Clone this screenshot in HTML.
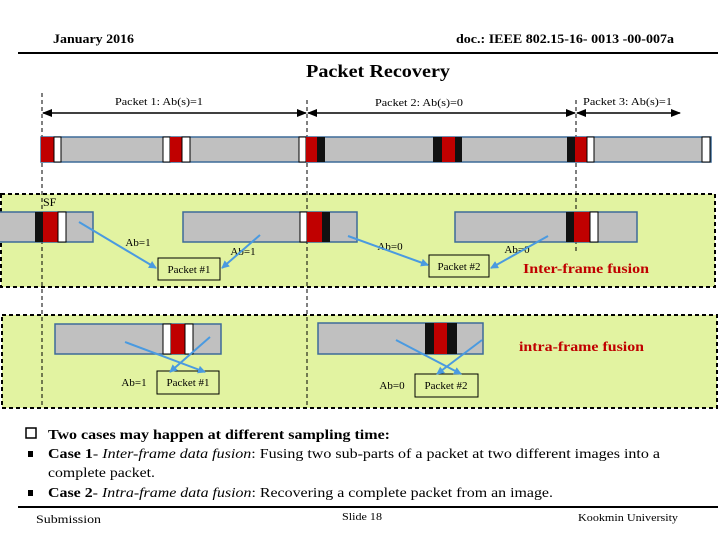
<!DOCTYPE html>
<html><head><meta charset="utf-8"><style>
html,body{margin:0;padding:0;background:#fff;width:720px;height:540px;overflow:hidden}
svg{display:block}
text{font-family:"Liberation Serif",serif;fill:#000}
</style></head><body>
<svg width="720" height="540" viewBox="0 0 720 540" xmlns="http://www.w3.org/2000/svg">
<defs>
<marker id="ab" markerWidth="8" markerHeight="8" refX="7" refY="4" orient="auto" markerUnits="userSpaceOnUse"><path d="M0,0 L8,4 L0,8 z" fill="#4a9ae0"/></marker>
<marker id="kb" markerWidth="10" markerHeight="8" refX="9" refY="4" orient="auto" markerUnits="userSpaceOnUse"><path d="M0,0 L10,4 L0,8 z" fill="#000"/></marker>
<marker id="ks" markerWidth="10" markerHeight="8" refX="1" refY="4" orient="auto" markerUnits="userSpaceOnUse"><path d="M10,0 L0,4 L10,8 z" fill="#000"/></marker>
</defs>
<text x="53" y="43" font-size="13" font-weight="bold" textLength="81" lengthAdjust="spacingAndGlyphs">January 2016</text>
<text x="456" y="43" font-size="13" font-weight="bold" textLength="218" lengthAdjust="spacingAndGlyphs">doc.: IEEE 802.15-16- 0013 -00-007a</text>
<line x1="18" y1="53" x2="718" y2="53" stroke="#000" stroke-width="2"/>
<text x="306" y="77" font-size="18" font-weight="bold" textLength="144" lengthAdjust="spacingAndGlyphs">Packet Recovery</text>

<rect x="1" y="194" width="714" height="93" fill="#e2f3a1" stroke="#000" stroke-width="2" stroke-dasharray="4,3"/>
<rect x="2" y="315" width="715" height="93" fill="#e2f3a1" stroke="#000" stroke-width="2" stroke-dasharray="4,3"/>

<g stroke="#000" stroke-width="1" stroke-dasharray="4,3">
<line x1="42" y1="93" x2="42" y2="408"/>
<line x1="307" y1="100" x2="307" y2="408"/>
<line x1="576" y1="100" x2="576" y2="252"/>
</g>

<text x="115" y="105" font-size="11" textLength="88" lengthAdjust="spacingAndGlyphs">Packet 1: Ab(s)=1</text>
<text x="375" y="106" font-size="11" textLength="88" lengthAdjust="spacingAndGlyphs">Packet 2: Ab(s)=0</text>
<text x="583" y="105" font-size="11" textLength="89" lengthAdjust="spacingAndGlyphs">Packet 3: Ab(s)=1</text>
<g stroke="#000" stroke-width="1.5">
<line x1="43" y1="113" x2="306" y2="113" marker-end="url(#kb)" marker-start="url(#ks)"/>
<line x1="308" y1="113" x2="575" y2="113" marker-end="url(#kb)" marker-start="url(#ks)"/>
<line x1="577" y1="113" x2="680" y2="113" marker-end="url(#kb)" marker-start="url(#ks)"/>
</g>

<rect x="41" y="137" width="670" height="25" fill="#c0c0c0" stroke="#3d6b99" stroke-width="1.5"/>
<g stroke="#000" stroke-width="1">
<rect x="41" y="137" width="13" height="25" fill="#c00000" stroke="none"/>
<rect x="54" y="137" width="7" height="25" fill="#fff"/>
<rect x="163" y="137" width="7" height="25" fill="#fff"/>
<rect x="170" y="137" width="12" height="25" fill="#c00000" stroke="none"/>
<rect x="182" y="137" width="8" height="25" fill="#fff"/>
<rect x="299" y="137" width="7" height="25" fill="#fff"/>
<rect x="306" y="137" width="11" height="25" fill="#c00000" stroke="none"/>
<rect x="317" y="137" width="8" height="25" fill="#111" stroke="none"/>
<rect x="433" y="137" width="9" height="25" fill="#111" stroke="none"/>
<rect x="442" y="137" width="13" height="25" fill="#c00000" stroke="none"/>
<rect x="455" y="137" width="7" height="25" fill="#111" stroke="none"/>
<rect x="567" y="137" width="8" height="25" fill="#111" stroke="none"/>
<rect x="575" y="137" width="12" height="25" fill="#c00000" stroke="none"/>
<rect x="587" y="137" width="7" height="25" fill="#fff"/>
<rect x="702" y="137" width="8" height="25" fill="#fff"/>
</g>

<text x="43" y="206" font-size="12">SF</text>
<rect x="-2" y="212" width="95" height="30" fill="#c0c0c0" stroke="#3d6b99" stroke-width="1.5"/>
<rect x="35" y="212" width="8" height="30" fill="#111"/>
<rect x="43" y="212" width="15" height="30" fill="#c00000"/>
<rect x="58" y="212" width="8" height="30" fill="#fff" stroke="#000"/>

<rect x="183" y="212" width="174" height="30" fill="#c0c0c0" stroke="#3d6b99" stroke-width="1.5"/>
<rect x="300" y="212" width="7" height="30" fill="#fff" stroke="#000"/>
<rect x="307" y="212" width="15" height="30" fill="#c00000"/>
<rect x="322" y="212" width="8" height="30" fill="#111"/>

<rect x="455" y="212" width="182" height="30" fill="#c0c0c0" stroke="#3d6b99" stroke-width="1.5"/>
<rect x="566" y="212" width="8" height="30" fill="#111"/>
<rect x="574" y="212" width="16" height="30" fill="#c00000"/>
<rect x="590" y="212" width="8" height="30" fill="#fff" stroke="#000"/>

<rect x="158" y="258" width="62" height="22" fill="none" stroke="#000"/>
<text x="189" y="273" font-size="11" text-anchor="middle">Packet #1</text>
<rect x="429" y="255" width="60" height="22" fill="none" stroke="#000"/>
<text x="459" y="270" font-size="11" text-anchor="middle">Packet #2</text>

<text x="138" y="246" font-size="11" text-anchor="middle">Ab=1</text>
<text x="243" y="255" font-size="11" text-anchor="middle">Ab=1</text>
<text x="390" y="250" font-size="11" text-anchor="middle">Ab=0</text>
<text x="517" y="253" font-size="11" text-anchor="middle">Ab=0</text>
<text x="523" y="273" font-size="14" font-weight="bold" textLength="126" lengthAdjust="spacingAndGlyphs" style="fill:#c00000">Inter-frame fusion</text>

<g stroke="#4a9ae0" stroke-width="2">
<line x1="79" y1="222" x2="156" y2="268" marker-end="url(#ab)"/>
<line x1="260" y1="235" x2="222" y2="268" marker-end="url(#ab)"/>
<line x1="348" y1="236" x2="428" y2="265" marker-end="url(#ab)"/>
<line x1="548" y1="236" x2="491" y2="268" marker-end="url(#ab)"/>
</g>

<rect x="55" y="324" width="166" height="30" fill="#c0c0c0" stroke="#3d6b99" stroke-width="1.5"/>
<rect x="163" y="324" width="8" height="30" fill="#fff" stroke="#000"/>
<rect x="171" y="324" width="14" height="30" fill="#c00000"/>
<rect x="185" y="324" width="8" height="30" fill="#fff" stroke="#000"/>

<rect x="318" y="323" width="165" height="31" fill="#c0c0c0" stroke="#3d6b99" stroke-width="1.5"/>
<rect x="425" y="323" width="9" height="31" fill="#111"/>
<rect x="434" y="323" width="13" height="31" fill="#c00000"/>
<rect x="447" y="323" width="10" height="31" fill="#111"/>

<rect x="157" y="371" width="62" height="23" fill="none" stroke="#000"/>
<text x="188" y="386" font-size="11" text-anchor="middle">Packet #1</text>
<rect x="415" y="374" width="63" height="23" fill="none" stroke="#000"/>
<text x="446" y="389" font-size="11" text-anchor="middle">Packet #2</text>
<text x="134" y="386" font-size="11" text-anchor="middle">Ab=1</text>
<text x="392" y="389" font-size="11" text-anchor="middle">Ab=0</text>
<text x="519" y="351" font-size="14" font-weight="bold" textLength="125" lengthAdjust="spacingAndGlyphs" style="fill:#c00000">intra-frame fusion</text>

<g stroke="#4a9ae0" stroke-width="2">
<line x1="125" y1="342" x2="205" y2="372" marker-end="url(#ab)"/>
<line x1="210" y1="337" x2="170" y2="372" marker-end="url(#ab)"/>
<line x1="396" y1="340" x2="461" y2="374" marker-end="url(#ab)"/>
<line x1="482" y1="340" x2="437" y2="374" marker-end="url(#ab)"/>
</g>

<rect x="26" y="428" width="10" height="10" fill="#fff" stroke="#000" stroke-width="1.5"/>
<text x="48" y="439" font-size="14" font-weight="bold" textLength="342" lengthAdjust="spacingAndGlyphs">Two cases may happen at different sampling time:</text>
<rect x="28" y="451" width="5" height="6" fill="#000"/>
<text x="48" y="458" font-size="14" textLength="612" lengthAdjust="spacingAndGlyphs"><tspan font-weight="bold">Case 1</tspan>- <tspan font-style="italic">Inter-frame data fusion</tspan>: Fusing two sub-parts of a packet at two different images into a</text>
<text x="48" y="477" font-size="14" textLength="107" lengthAdjust="spacingAndGlyphs">complete packet.</text>
<rect x="28" y="490" width="5" height="6" fill="#000"/>
<text x="48" y="497" font-size="14" textLength="505" lengthAdjust="spacingAndGlyphs"><tspan font-weight="bold">Case 2</tspan>- <tspan font-style="italic">Intra-frame data fusion</tspan>: Recovering a complete packet from an image.</text>

<line x1="18" y1="507" x2="718" y2="507" stroke="#000" stroke-width="2"/>
<text x="36" y="523" font-size="12" textLength="65" lengthAdjust="spacingAndGlyphs">Submission</text>
<text x="342" y="520" font-size="11" textLength="40" lengthAdjust="spacingAndGlyphs">Slide 18</text>
<text x="578" y="521" font-size="11" textLength="100" lengthAdjust="spacingAndGlyphs">Kookmin University</text>
</svg>
</body></html>
